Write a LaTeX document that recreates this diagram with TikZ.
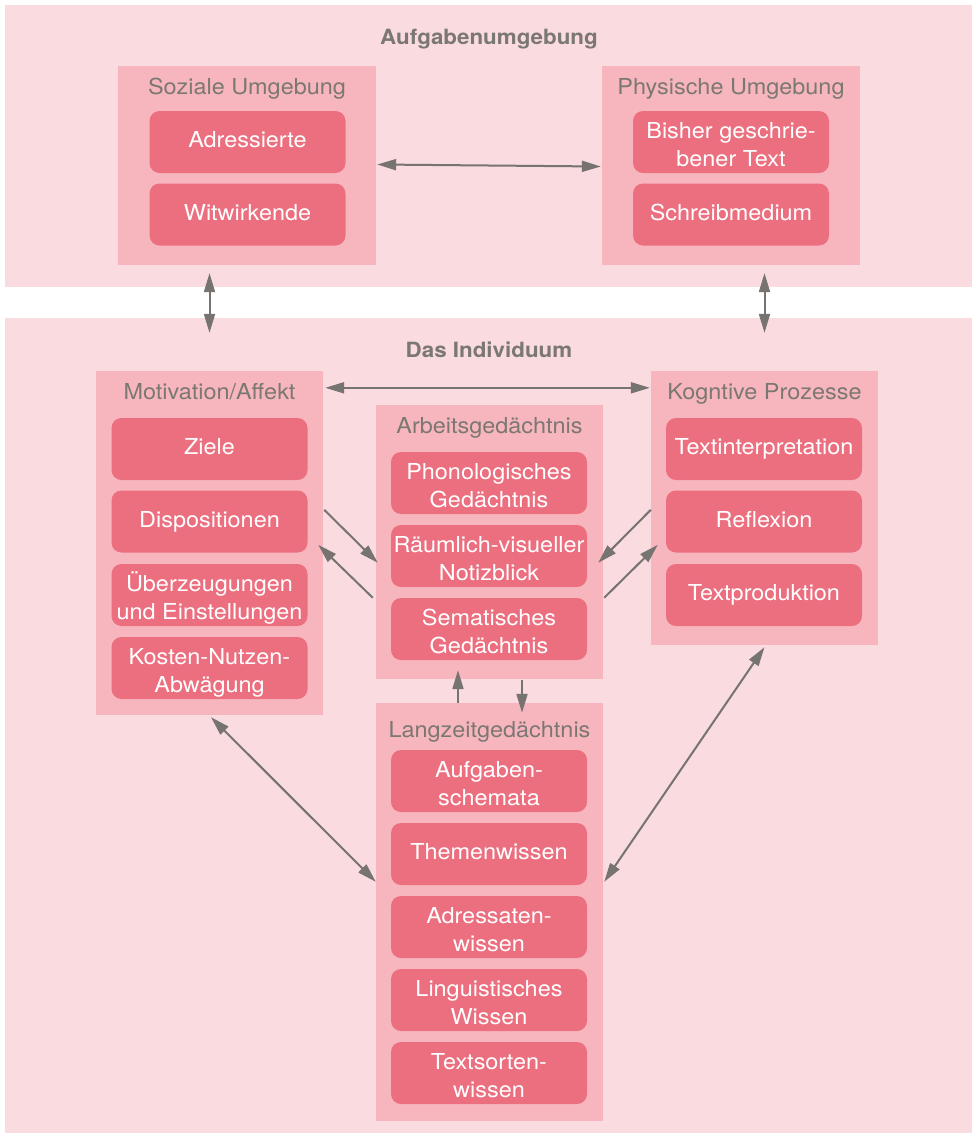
\documentclass[tikz,border=0pt]{standalone}
\usepackage{fontspec}
\setmainfont{TeX Gyre Heros}[FakeStretch=1.065]
\usetikzlibrary{arrows.meta,calc}
\definecolor{panelbg}{HTML}{F9DBE0}
\definecolor{groupbg}{HTML}{F7B6BE}
\definecolor{itembg}{HTML}{EC6F80}
\definecolor{titlegray}{HTML}{7B7773}
\definecolor{arrowgray}{HTML}{767370}
\tikzset{
  panel/.style={fill=panelbg, draw=none, inner sep=0pt},
  group/.style={fill=groupbg, draw=none, inner sep=0pt, minimum width=227, minimum height=274},
  itemfill/.style={fill=itembg, draw=none, rounded corners=10pt, inner sep=0pt,
    minimum width=196, minimum height=62},
  itemtxt/.style={text=white, inner sep=0pt, anchor=base, font=\fontsize{22}{27}\selectfont},
  gtitle/.style={text=titlegray, inner sep=0pt, anchor=base, font=\fontsize{22}{26}\selectfont},
  head/.style={text=titlegray, inner sep=0pt, anchor=base, font=\fontsize{21}{26}\selectfont\bfseries},
  arr/.style={draw=arrowgray, line width=2pt, -{Triangle[length=19pt,width=11pt]}},
  darr/.style={draw=arrowgray, line width=2pt, {Triangle[length=19pt,width=11pt]}-{Triangle[length=19pt,width=11pt]}}
}
% one-line item: name, position, text
\newcommand\itemone[3]{%
  \node[itemfill] (#1) at (#2) {};
  \node[itemtxt] (#1-t) at ($(#1.center)+(0,5.5)$) {#3};}
% two-line item: name, position, line 1, line 2
\newcommand\itemtwo[4]{%
  \node[itemfill] (#1) at (#2) {};
  \node[itemtxt] (#1-a) at ($(#1.center)+(0,-4)$) {#3};
  \node[itemtxt] (#1-b) at ($(#1.center)+(0,24)$) {#4};}
\begin{document}
\begin{tikzpicture}[x=1pt,y=-1pt]
\useasboundingbox (0,0) rectangle (975,1136);
\fill[white] (0,0) rectangle (975,1136);
% panels
\node[panel, minimum width=967, minimum height=282] (top) at (488.5,146) {};
\node[panel, minimum width=967, minimum height=815] (bot) at (488.5,725.5) {};
\node[head] (topH) at (489,44.5) {Aufgabenumgebung};
\node[head] (botH) at (489,357) {Das Individuum};
% Soziale Umgebung
\node[group, minimum width=258, minimum height=199] (soz) at (247,165.5) {};
\node[gtitle] (sozT) at ($(soz.north)+(0,29)$) {Soziale Umgebung};
\itemone{adr}{247.5,142}{Adressierte}
\itemone{wit}{247.5,214.5}{Witwirkende}
% Physische Umgebung
\node[group, minimum width=258, minimum height=199] (phy) at (731,165.5) {};
\node[gtitle] (phyT) at ($(phy.north)+(0,29)$) {Physische Umgebung};
\itemtwo{bis}{731,142}{Bisher geschrie-}{bener Text}
\itemone{sch}{731,214.5}{Schreibmedium}
% Motivation/Affekt
\node[group, minimum height=344] (mot) at (209.5,543) {};
\node[gtitle] (motT) at ($(mot.north)+(0,29)$) {Motivation/Affekt};
\itemone{zie}{209.5,449}{Ziele}
\itemone{dis}{209.5,521.5}{Dispositionen}
\itemtwo{ueb}{209.5,595}{Überzeugungen}{und Einstellungen}
\itemtwo{kos}{209.5,668}{Kosten-Nutzen-}{Abwägung}
% Arbeitsgedaechtnis
\node[group] (arb) at (489.5,542) {};
\node[gtitle] (arbT) at ($(arb.north)+(0,29)$) {Arbeitsgedächtnis};
\itemtwo{pho}{489,483}{Phonologisches}{Gedächtnis}
\itemtwo{rae}{489,556}{Räumlich-visueller}{Notizblick}
\itemtwo{sem}{489,629}{Sematisches}{Gedächtnis}
% Kognitive Prozesse
\node[group] (kog) at (764.5,508) {};
\node[gtitle] (kogT) at ($(kog.north)+(0,28.5)$) {Kogntive Prozesse};
\itemone{tin}{764,449}{Textinterpretation}
\itemone{ref}{764,521.5}{Reflexion}
\itemone{tpr}{764,595}{Textproduktion}
% Langzeitgedaechtnis
\node[group, minimum height=418] (lang) at (489.5,912) {};
\node[gtitle] (langT) at ($(lang.north)+(0,35)$) {Langzeitgedächtnis};
\itemtwo{auf}{489,781}{Aufgaben-}{schemata}
\itemone{the}{489,854}{Themenwissen}
\itemtwo{adw}{489,927}{Adressaten-}{wissen}
\itemtwo{lin}{489,1000}{Linguistisches}{Wissen}
\itemtwo{tsw}{489,1073}{Textsorten-}{wissen}
% arrows
\draw[darr] ($(soz.east)+(1,-1)$) -- ($(phy.west)+(-1,1)$);
\draw[darr] ($(mot.north |- soz.south)+(0,8)$) -- ($(mot.north)+(0,-38)$);
\draw[darr] ($(kog.north |- phy.south)+(0,8)$) -- ($(kog.north)+(0,-38)$);
\draw[darr] ($(mot.north east)+(2,17)$) -- ($(kog.north west)+(-1,17)$);
\draw[arr] ($(mot.north east)+(1,139)$) -- ($(arb.north west)+(2,158)$);
\draw[arr] ($(arb.north west)+(-3,193)$) -- ($(mot.north east)+(-5,174)$);
\draw[arr] ($(kog.north west)+(0,139)$) -- ($(arb.north east)+(-5,158)$);
\draw[arr] ($(arb.north east)+(1,193)$) -- ($(kog.north west)+(7,174)$);
\draw[arr] ($(lang.north)+(-31.5,0)$) -- ($(arb.south)+(-31.5,-9)$);
\draw[arr] ($(arb.south)+(32.5,1)$) -- ($(lang.north)+(32.5,10)$);
\draw[darr] ($(mot.south)+(1.5,2)$) -- ($(lang.north west)+(0,179)$);
\draw[darr] ($(kog.south)+(0,2)$) -- ($(lang.north east)+(1,179)$);
\end{tikzpicture}
\end{document}
